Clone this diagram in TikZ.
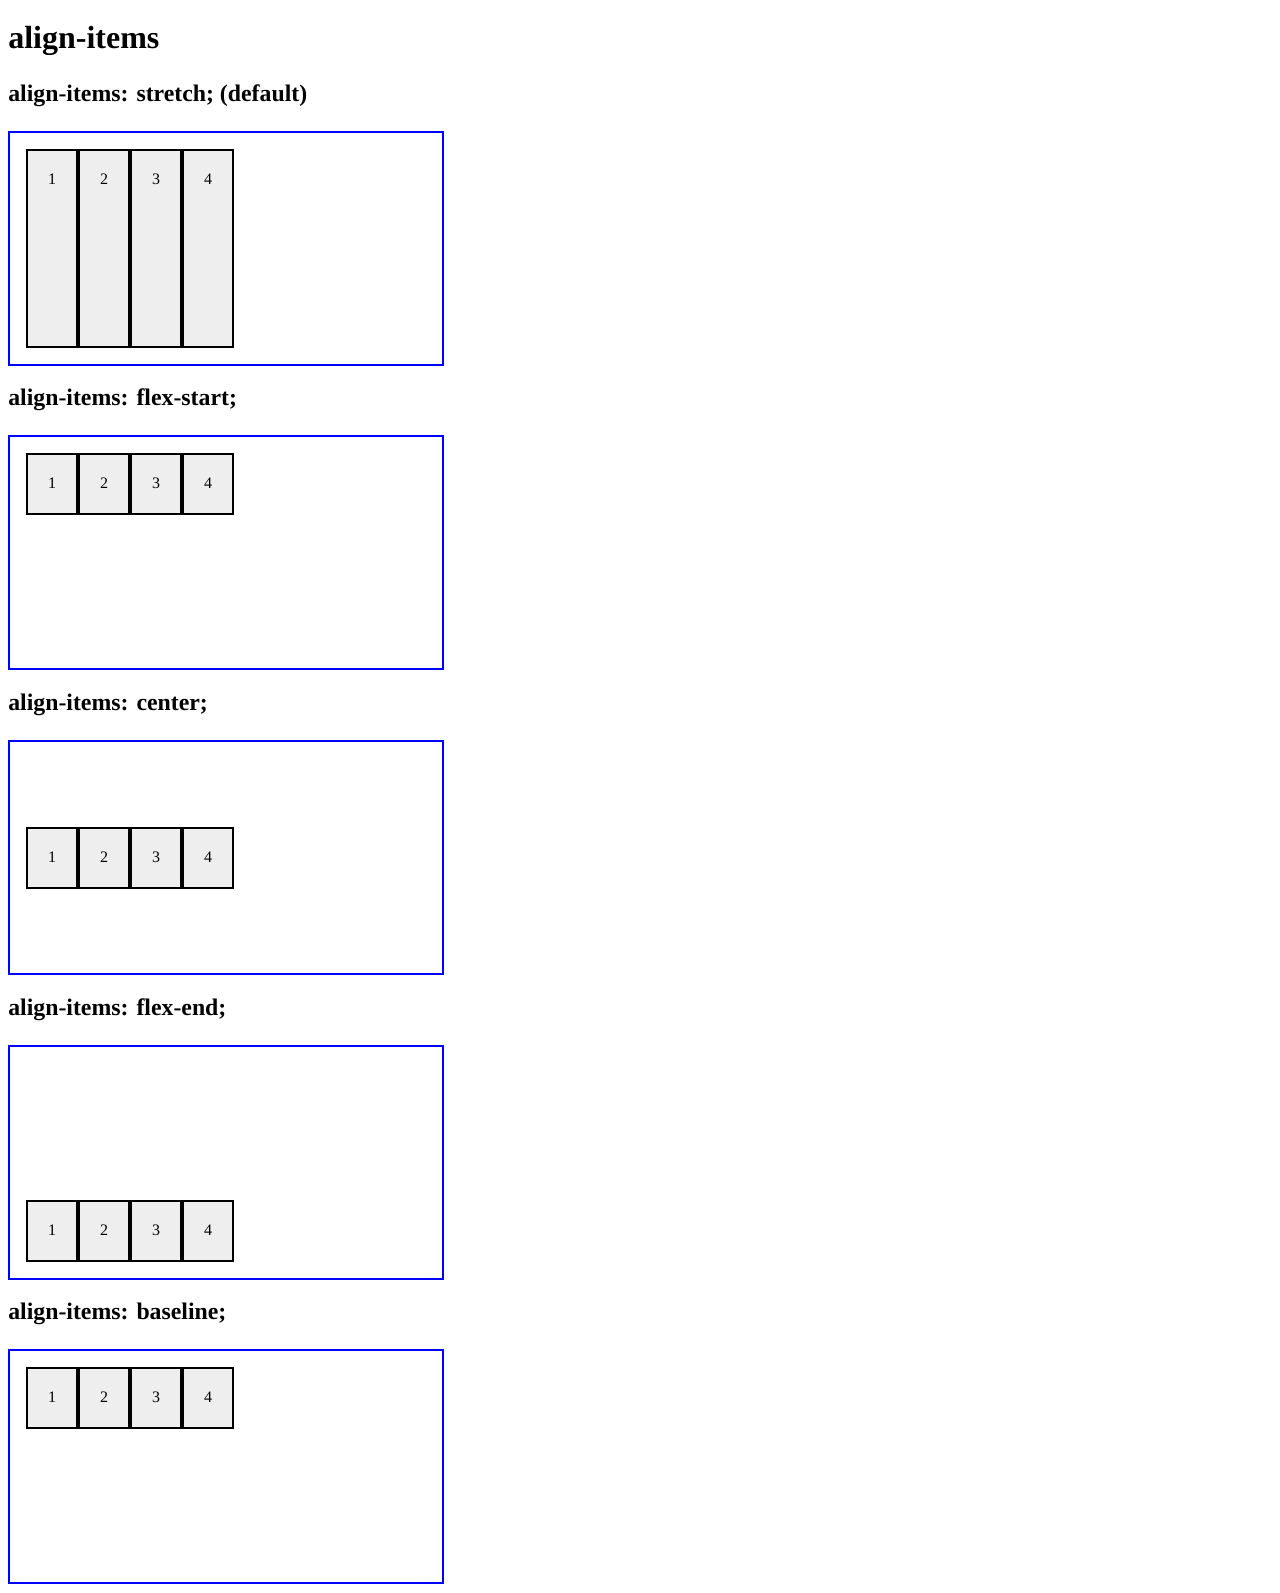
\documentclass[tikz,border=0pt]{standalone}
\usepackage{fontspec}
\setmainfont{Liberation Serif}
\definecolor{boxblue}{RGB}{0,0,255}
\definecolor{itemgray}{RGB}{238,238,238}
\begin{document}
\begin{tikzpicture}[x=0.75pt,y=-0.75pt,
  container/.style={draw=boxblue, line width=1.5pt, inner sep=0pt, minimum width=325.5pt, minimum height=174.75pt},
  flexitem/.style={draw=black, fill=itemgray, line width=1.5pt, inner sep=0pt, minimum width=37.5pt},
  heading/.style={anchor=base west, inner sep=0pt, font=\fontsize{17.85pt}{21pt}\selectfont\bfseries},
  titlestyle/.style={anchor=base west, inner sep=0pt, font=\fontsize{24pt}{28pt}\selectfont\bfseries},
  digit/.style={anchor=base, inner sep=0pt, font=\fontsize{12pt}{14pt}\selectfont}]
\useasboundingbox (0,0) rectangle (1280,1593);
\fill[white] (0,0) rectangle (1280,1593);
\node[titlestyle] (title) at (8,48) {align-items};
\foreach \k/\T/\txt/\off/\h in {
  1/130.7/{align-items: stretch; (default)}/18/199,
  2/435.35/{align-items: flex-start;}/18/62,
  3/740.0/{align-items: center;}/86.5/62,
  4/1044.65/{align-items: flex-end;}/155/62,
  5/1349.3/{align-items: baseline;}/18/62}{
  \pgfmathsetmacro\ytop{\T+\off}
  \pgfmathsetmacro\yc{\ytop+\h/2}
  \pgfmathsetmacro\ph{(\h-2)*0.75}
  \node[heading] (h\k) at (8,\T-29.5) {\txt};
  \node[container] (c\k) at (226,\T+117.5) {};
  \foreach \i in {1,...,4}{
    \node[flexitem, minimum height=\ph pt] (i\k-\i) at (52*\i,\yc) {};
    \node[digit] (d\k-\i) at (52*\i,\ytop+35.6) {\i};
  }
}
\end{tikzpicture}
\end{document}
